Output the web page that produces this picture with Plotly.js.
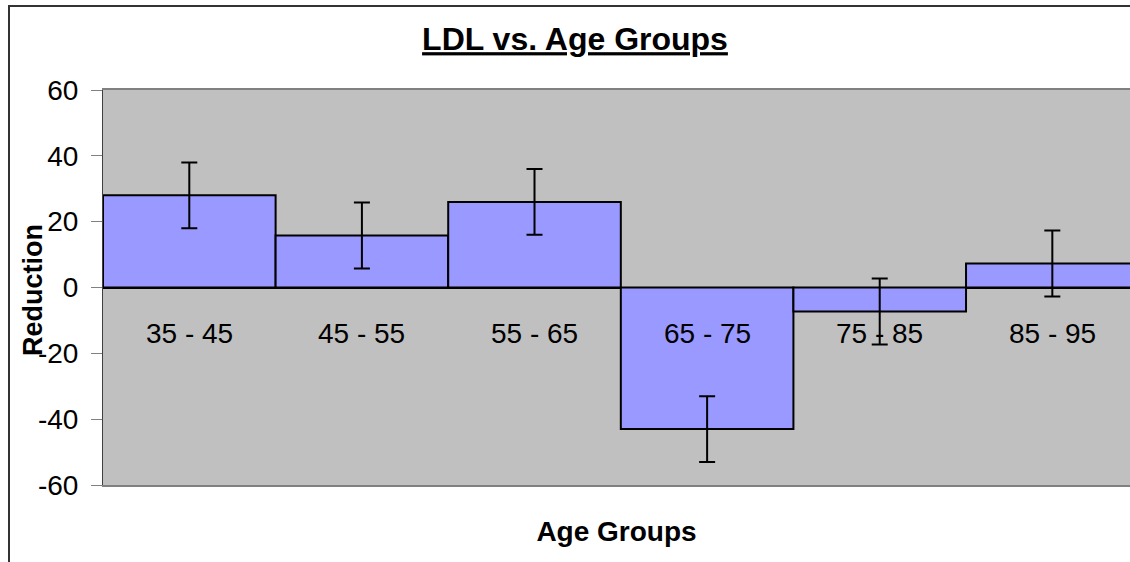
<!DOCTYPE html>
<html>
<head>
<meta charset="utf-8">
<script src="https://cdn.plot.ly/plotly-3.0.1.min.js"></script>
<style>html,body{margin:0;padding:0;overflow:hidden;background:#fff;}</style>
</head>
<body>
<div id="chart" style="width:1130px;height:562px;"></div>
<script>
const categories = ["35 - 45", "45 - 55", "55 - 65", "65 - 75", "75 - 85", "85 - 95"];
const reduction = [28, 15.8, 26, -43, -7.3, 7.3];
const errors = [10, 10, 10, 10, 10, 10];
const yTicks = [-60, -40, -20, 0, 20, 40, 60];
const yTickText = ["-60", "-40", "-20", "0", "20", "40", "60"];

const FONT = "Liberation Sans, Arial, sans-serif";

const trace = {
  type: "bar",
  x: categories,
  y: reduction,
  marker: {color: "#9999ff", line: {color: "#000000", width: 2}},
  error_y: {type: "data", array: errors, visible: true, color: "#000000", thickness: 2, width: 8},
  hoverinfo: "none"
};

const annotations = categories.map(c => ({
  x: c, y: 0, xref: "x", yref: "y",
  text: c, showarrow: false, yshift: -46, yanchor: "middle",
  font: {family: FONT, size: 28, color: "#000"}
}));
annotations.push({
  text: "<b>Reduction</b>", textangle: -90, showarrow: false,
  xref: "paper", yref: "paper", x: (33 - 103) / 1027, y: (485 - 290) / 395,
  xanchor: "center", yanchor: "middle",
  font: {family: FONT, size: 27, color: "#000"}
});

const layout = {
  width: 1130, height: 562,
  margin: {l: 103, r: 0, t: 90, b: 77},
  paper_bgcolor: "#ffffff",
  plot_bgcolor: "#c0c0c0",
  bargap: 0,
  showlegend: false,
  font: {family: FONT, color: "#000"},
  title: {
    text: "<b><u>LDL vs. Age Groups</u></b>",
    x: 575 / 1130, xref: "container", xanchor: "center",
    y: 1 - 39 / 562, yref: "container", yanchor: "middle",
    font: {size: 32, family: FONT, color: "#000"}
  },
  xaxis: {
    type: "category",
    range: [-0.5, 5.45],
    showticklabels: false,
    ticks: "",
    showgrid: false,
    showline: true, mirror: true, linecolor: "#808080", linewidth: 2,
    zeroline: false,
    title: {text: "<b>Age Groups</b>", standoff: 35, font: {size: 28}},
    automargin: false
  },
  yaxis: {
    range: [-60, 60],
    tickvals: yTicks,
    ticktext: yTickText,
    tickmode: "array",
    ticks: "outside", ticklen: 11, tickcolor: "#808080", tickwidth: 1,
    ticklabelstandoff: 7,
    tickfont: {size: 28},
    showgrid: false,
    showline: true, linecolor: "#404040", linewidth: 1,
    zeroline: true, zerolinecolor: "#000000", zerolinewidth: 2,
    automargin: false
  },
  shapes: [{
    type: "rect", xref: "paper", yref: "paper",
    x0: (9 - 103) / 1027, x1: 1.2, y0: -0.5, y1: 1 + (90 - 6) / 395,
    line: {color: "#333333", width: 2}, fillcolor: "rgba(0,0,0,0)", layer: "below"
  }],
  annotations: annotations
};

Plotly.newPlot("chart", [trace], layout, {displayModeBar: false, staticPlot: true});
</script>
</body>
</html>
